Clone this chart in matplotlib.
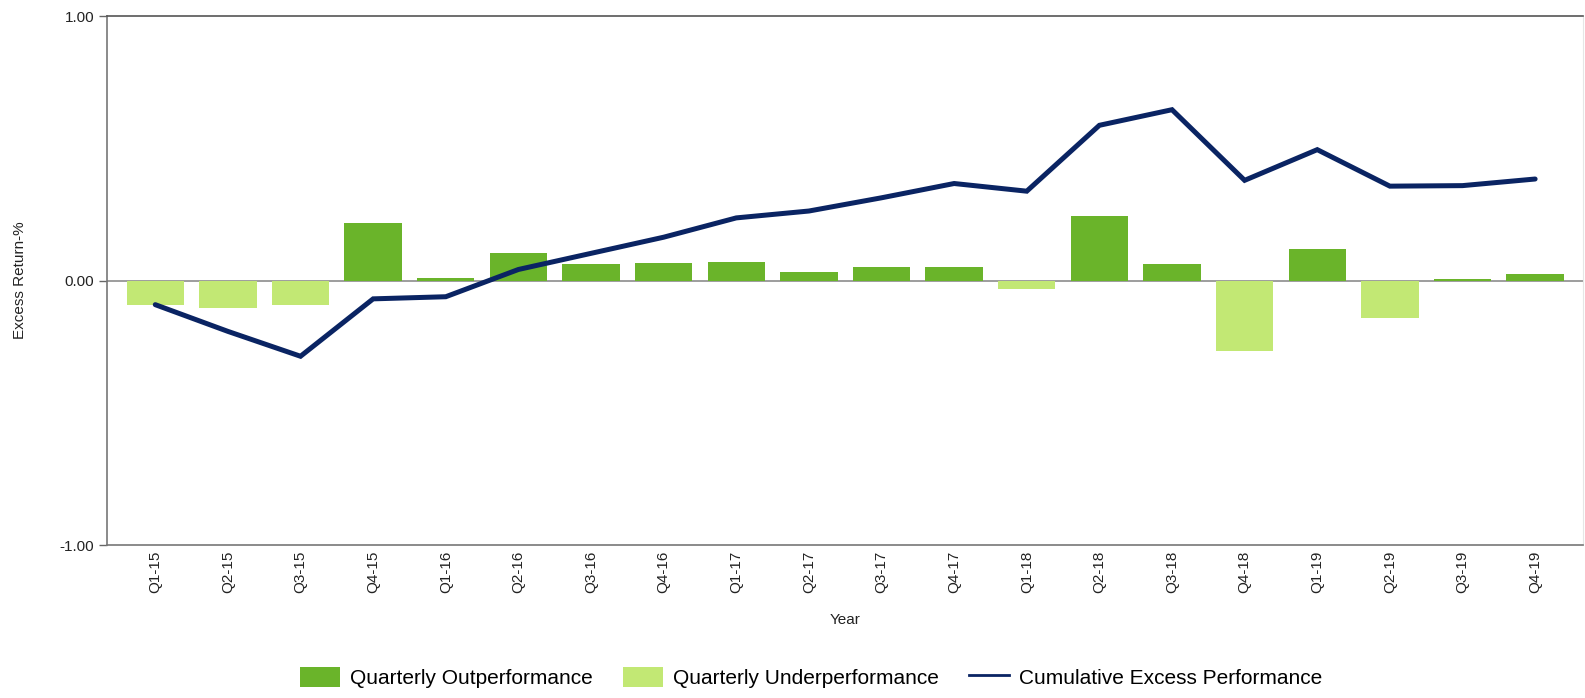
import numpy as np
import matplotlib
matplotlib.use("Agg")
import matplotlib.pyplot as plt
from matplotlib.patches import Patch
from matplotlib.lines import Line2D

plt.rcParams["font.family"] = ["Liberation Sans", "DejaVu Sans"]

quarters = ["Q1-15", "Q2-15", "Q3-15", "Q4-15", "Q1-16", "Q2-16", "Q3-16", "Q4-16",
            "Q1-17", "Q2-17", "Q3-17", "Q4-17", "Q1-18", "Q2-18", "Q3-18", "Q4-18",
            "Q1-19", "Q2-19", "Q3-19", "Q4-19"]
quarterly = [-0.091, -0.102, -0.092, 0.217, 0.008, 0.103, 0.061, 0.065,
             0.072, 0.031, 0.050, 0.053, -0.030, 0.246, 0.062, -0.267,
             0.120, -0.142, 0.006, 0.024]
cumulative = [-0.091, -0.192, -0.286, -0.069, -0.061, 0.042, 0.103, 0.164,
              0.237, 0.263, 0.313, 0.367, 0.338, 0.587, 0.646, 0.379,
              0.495, 0.357, 0.359, 0.384]

OUT_C = "#6ab42a"
UNDER_C = "#c2e874"
LINE_C = "#0a2463"

fig = plt.figure(figsize=(15.85, 6.98), dpi=100)
ax = fig.add_axes([0.0675, 0.219, 0.9315, 0.758])

x = np.arange(len(quarters))
vals = np.array(quarterly)
colors = [OUT_C if v >= 0 else UNDER_C for v in vals]
ax.bar(x, vals, width=0.79, color=colors, zorder=2)
ax.plot(x, cumulative, color=LINE_C, lw=3.6, solid_capstyle="round",
        solid_joinstyle="miter", zorder=3)
ax.axhline(0, color="#8c8c8c", lw=1.2, zorder=1)

ax.set_xlim(-0.665, 19.665)
ax.set_ylim(-1, 1)
ax.set_yticks([-1, 0, 1])
ax.set_yticklabels(["-1.00", "0.00", "1.00"], fontsize=11, color="#222222")
ax.set_xticks(x)
ax.set_xticklabels(quarters, rotation=90, fontsize=11, color="#222222")
ax.tick_params(axis="x", length=0, pad=4)
ax.tick_params(axis="y", length=6, width=1, color="#666666", pad=3)

for s in ["left", "bottom"]:
    ax.spines[s].set_color("#777777")
    ax.spines[s].set_linewidth(1.2)
ax.spines["top"].set_color("#555555")
ax.spines["top"].set_linewidth(1.2)
ax.spines["right"].set_color("#e6e6e6")

ax.set_ylabel("Excess Return-%", fontsize=11, color="#222222")
ax.yaxis.set_label_coords(-0.054, 0.5)
ax.set_xlabel("Year", fontsize=11, color="#222222", labelpad=14)

handles = [Patch(facecolor=OUT_C, label="Quarterly Outperformance"),
           Patch(facecolor=UNDER_C, label="Quarterly Underperformance"),
           Line2D([0], [0], color=LINE_C, lw=2, label="Cumulative Excess Performance")]
fig.legend(handles=handles, loc="center", bbox_to_anchor=(0.512, 0.03), ncol=3,
           frameon=False, fontsize=15, handlelength=1.9, handleheight=1.1,
           columnspacing=1.45, handletextpad=0.5)

fig.savefig("out.png", dpi=100)
